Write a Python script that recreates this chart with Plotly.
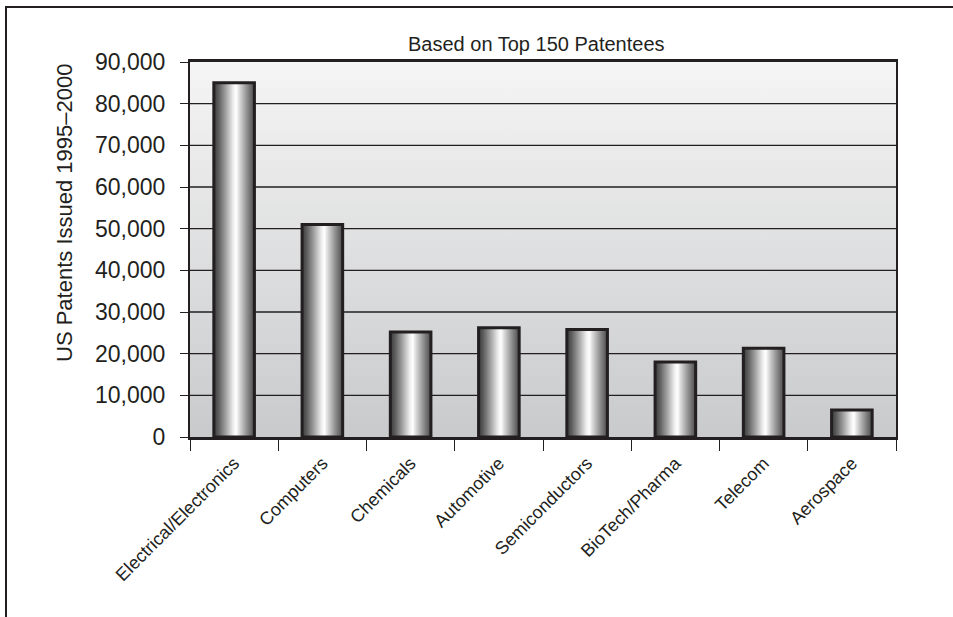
import plotly.graph_objects as go

# Patent counts by industry (top 150 patentees, 1995-2000)
categories = ["Electrical/Electronics", "Computers", "Chemicals", "Automotive",
              "Semiconductors", "BioTech/Pharma", "Telecom", "Aerospace"]
patents = [85000, 51000, 25200, 26200, 25800, 18000, 21300, 6500]
y_ticks = [0, 10000, 20000, 30000, 40000, 50000, 60000, 70000, 80000, 90000]
y_tick_text = [f"{v:,}" for v in y_ticks]

INK = "#231f20"
FONT = "Liberation Sans, Arial, sans-serif"
BAR_W = 0.46
W, H = 953, 617
L, R, T, B = 190, 57, 62, 180
PW, PH = W - L - R, H - T - B

x_lo, x_hi = -0.5, len(categories) - 0.5
y_lo, y_hi = y_ticks[0], y_ticks[-1]

# cylinder-style shading across each bar
bar_scale = [[0.0, "#3a3a3a"], [0.12, "#5e5e5e"], [0.3, "#a4a4a4"],
             [0.48, "#eeeeee"], [0.55, "#ffffff"], [0.65, "#d2d2d2"],
             [0.82, "#8e8e8e"], [1.0, "#4a4a4a"]]

fig = go.Figure()

# plot-area background: light at the top, grey at the bottom
fig.add_trace(go.Scatter(
    x=[x_lo, x_hi, x_hi, x_lo, x_lo], y=[y_lo, y_lo, y_hi, y_hi, y_lo],
    mode="lines", line=dict(width=0), fill="toself",
    fillgradient=dict(type="vertical",
                      colorscale=[[0, "#c9cacc"], [1, "#f5f5f5"]]),
    xaxis="x", yaxis="y", hoverinfo="skip", showlegend=False))

# horizontal gridlines at the y ticks
gx, gy = [], []
for v in y_ticks[1:-1]:
    gx += [x_lo, x_hi, None]
    gy += [v, v, None]
fig.add_trace(go.Scatter(x=gx, y=gy, mode="lines",
                         line=dict(color=INK, width=1.3),
                         xaxis="x", yaxis="y", hoverinfo="skip",
                         showlegend=False))

# shaded bar bodies
for i, v in enumerate(patents):
    a, b = i - BAR_W / 2, i + BAR_W / 2
    fig.add_trace(go.Scatter(
        x=[a, b, b, a, a], y=[0, 0, v, v, 0], mode="lines",
        line=dict(width=0), fill="toself",
        fillgradient=dict(type="horizontal", colorscale=bar_scale),
        xaxis="x", yaxis="y", hoverinfo="skip", showlegend=False))

# bar outlines on the category axis
fig.add_trace(go.Bar(
    x=categories, y=patents, width=BAR_W,
    marker=dict(color="rgba(0,0,0,0)", line=dict(color=INK, width=3)),
    xaxis="x2", yaxis="y", showlegend=False))

def px_x(p):
    return (p - L) / PW

def px_y(p):
    return (H - B - p) / PH

fig.update_layout(
    width=W, height=H,
    margin=dict(l=L, r=R, t=T, b=B, pad=0),
    paper_bgcolor="white", plot_bgcolor="white",
    font=dict(family=FONT, color=INK),
    barmode="overlay",
    xaxis=dict(range=[x_lo, x_hi], visible=False, fixedrange=True),
    xaxis2=dict(type="category", overlaying="x", anchor="y", side="bottom",
                range=[x_lo, x_hi], categoryorder="array",
                categoryarray=categories,
                showline=True, linecolor=INK, linewidth=2.5, mirror=True,
                ticks="outside", tickson="boundaries", ticklen=11,
                tickwidth=1.3, tickcolor=INK, tickangle=-45,
                ticklabelstandoff=6,
                tickfont=dict(size=18, family=FONT, color=INK),
                showgrid=False),
    yaxis=dict(range=[y_lo, y_hi], tickvals=y_ticks, ticktext=y_tick_text,
               showline=True, linecolor=INK, linewidth=2, mirror=True,
               ticks="outside", ticklen=8, tickwidth=1.3, tickcolor=INK,
               tickfont=dict(size=23, family=FONT, color=INK),
               ticklabelstandoff=10, showgrid=False, zeroline=False),
    annotations=[
        dict(text="Based on Top 150 Patentees", xref="paper", yref="paper",
             x=px_x(536), y=px_y(44), xanchor="center", yanchor="middle",
             showarrow=False, font=dict(size=20, family=FONT, color=INK)),
        dict(text="US Patents Issued 1995\u20132000", xref="paper",
             yref="paper", x=px_x(65), y=px_y(213), xanchor="center",
             yanchor="middle", textangle=-90, showarrow=False,
             font=dict(size=22, family=FONT, color=INK)),
    ],
    shapes=[
        dict(type="path", xref="paper", yref="paper",
             path=f"M {px_x(6)} {px_y(617)} L {px_x(6)} {px_y(7)} "
                  f"L {px_x(953)} {px_y(7)}",
             line=dict(color=INK, width=2)),
    ],
)

fig.write_html("out.html")
